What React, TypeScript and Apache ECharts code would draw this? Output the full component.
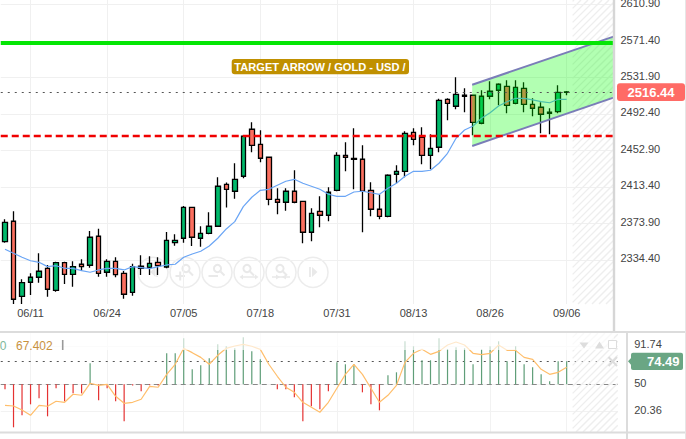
import React, { useEffect, useRef } from "react";
import * as echarts from "echarts";

const FONT = "'Liberation Sans', Arial, sans-serif";

const dateTickIndex = [3, 12, 21, 30, 39, 48, 57, 66];
const dateTickLabels = ["06/11", "06/24", "07/05", "07/18", "07/31", "08/13", "08/26", "09/06"];
const priceTicks = [2610.9, 2571.4, 2531.9, 2492.4, 2452.9, 2413.4, 2373.9, 2334.4];
const oscTicks = [91.74, 50, 20.36];
const lastPrice = 2516.44;
const targetLevel = 2569.6;
const supportLevel = 2468.6;
const lastOsc = 74.49;
const oscAverageLast = "67.402";
const chartTitle = "TARGET ARROW / GOLD - USD /";

// open, close, low, high per session
const opens = [
  2354.2, 2376.3, 2295.1, 2310.3, 2315.7, 2325.4, 2301.6, 2331.5, 2318.9, 2329.8, 2328.7, 2360.1,
  2321.1, 2333, 2320, 2299.4, 2327.6, 2326.5, 2331.9, 2326.8, 2353.1, 2357.9, 2391.4, 2357.9,
  2363.3, 2370.9, 2416.3, 2408.8, 2425, 2475.9, 2459.6, 2445.6, 2400.1, 2396.9, 2408.8, 2397.9,
  2364.4, 2387.1, 2382.8, 2409.8, 2447.7, 2443.2, 2443.4, 2409.8, 2389.3, 2381.7, 2427.2, 2430.4,
  2472.6, 2467.2, 2447.7, 2456.4, 2508.3, 2500.8, 2512.7, 2512.7, 2482.4, 2511.6, 2518.1, 2522.4,
  2504, 2520.2, 2502.9, 2499.7, 2493.2, 2494.9, 2515.9,
];
const closes = [
  2375.2, 2291.9, 2309.8, 2315.7, 2322.2, 2302.7, 2331.5, 2318.9, 2327.2, 2327.2, 2359, 2320,
  2333, 2318.5, 2297.3, 2327.2, 2325.4, 2330.8, 2328.2, 2355.7, 2355.7, 2391.4, 2359, 2363.3,
  2370.9, 2414.2, 2410.9, 2421.7, 2468.3, 2458.5, 2444.5, 2400.1, 2396.9, 2408.8, 2396.9, 2364.4,
  2384.9, 2382.8, 2407.7, 2447.7, 2445.6, 2444.3, 2408.8, 2389.3, 2381.7, 2426.1, 2430.4, 2471.5,
  2465, 2447.7, 2455.3, 2507.2, 2504, 2513.7, 2511.6, 2483.4, 2511.6, 2517, 2524.6, 2501.8,
  2521.3, 2502.9, 2498.6, 2492.1, 2494.3, 2515.9, 2516.44,
];
const lows = [
  2353.1, 2286.8, 2286.8, 2296.5, 2309.8, 2294.7, 2300.1, 2308.4, 2305.5, 2322.5, 2326.1, 2316.3,
  2316.3, 2315.7, 2292.5, 2295.8, 2318.2, 2318.2, 2318.2, 2325.4, 2349.9, 2353.1, 2349.6, 2348.8,
  2362.2, 2370.4, 2391.2, 2400.8, 2422.8, 2451, 2440.1, 2393.6, 2383.9, 2387.8, 2395.8, 2352.5,
  2354.6, 2369.8, 2376.3, 2408.8, 2430.4, 2410.9, 2364.4, 2381.7, 2378.5, 2380.6, 2417.4, 2423.9,
  2458.5, 2438, 2432.6, 2451, 2485.6, 2497.5, 2494.3, 2469.4, 2481.3, 2508.3, 2501.8, 2493.2,
  2502.9, 2494.3, 2489.9, 2471.5, 2470.4, 2493.2, 2512.7,
];
const highs = [
  2378.4, 2387.1, 2313.5, 2320, 2341.7, 2329, 2332.6, 2332.6, 2333, 2335.2, 2365.8, 2368.3,
  2335.2, 2337.3, 2322.5, 2330.4, 2339.5, 2338.4, 2337.3, 2364.7, 2362.2, 2392.8, 2391.4, 2370.9,
  2386, 2423.9, 2418.3, 2439.1, 2469.4, 2483.4, 2474.8, 2445.6, 2412, 2412, 2431.5, 2397.9,
  2390.4, 2403.3, 2413.1, 2451, 2461.8, 2476.9, 2458.5, 2418.5, 2405.5, 2427.2, 2436.9, 2473.7,
  2476.9, 2478, 2470.4, 2509, 2509.4, 2532.1, 2520.2, 2512.7, 2518.1, 2527.8, 2525.6, 2528.9,
  2528.9, 2526.7, 2509.4, 2505.1, 2498.6, 2523.5, 2517.3,
];
const movingAverage = [
  2346, 2341.7, 2337.3, 2333.6, 2331.9, 2327.2, 2328.2, 2325.4, 2325.4, 2322.8, 2321.1, 2323.6,
  2325.4, 2325.4, 2323.6, 2327.2, 2326.1, 2325, 2327.2, 2329, 2329.8, 2337.3, 2340.9, 2343.8,
  2349.6, 2357.9, 2368, 2375.9, 2392.1, 2402.3, 2409.8, 2410.9, 2415.3, 2419.6, 2421.7, 2417.4,
  2414.2, 2410.9, 2405.5, 2403.3, 2403.3, 2408, 2408.8, 2407.2, 2405.5, 2412, 2417.4, 2425,
  2430.4, 2430.4, 2431.5, 2439.1, 2449.9, 2466.1, 2475.1, 2479.4, 2487.8, 2493.8, 2501.1, 2505.7,
  2509.4, 2509.4, 2507.6, 2505.7, 2504.6, 2508.3, 2508.3,
];
const oscBars = [
  44.6, 3.4, 16.4, 28.3, 34.8, 15.3, 45.7, 31.6, 40.2, 40.2, 72.7, 32.7, 45.7, 31.6, 9.9, 48.6,
  42.4, 48.9, 48.6, 83.6, 83.6, 99.8, 66.2, 70.6, 78.2, 93.3, 91.2, 89, 100.9, 85.7, 77.1, 50,
  44.6, 44.6, 35.9, 9.9, 26.2, 22.9, 42.4, 73.8, 71.7, 71.7, 41.3, 28.3, 21.8, 59.8, 63, 96.6,
  91.2, 76, 76, 99.8, 88.3, 90.1, 89, 71.7, 87.9, 91.2, 96.6, 74.9, 91.2, 71.7, 68.4, 60.8,
  53.2, 74.9, 74.9,
];
const oscLine = [
  27.2, 26.5, 22.2, 16.4, 27.2, 26.2, 31.6, 30.5, 39.2, 38.1, 51.1, 48.9, 50, 37, 29.4, 30.5,
  33.8, 47.8, 46.8, 60.8, 71.7, 89, 84.3, 79.2, 71.7, 81.4, 89, 91.5, 93.3, 91.2, 87.9, 71.7,
  58.7, 46.8, 41.3, 30.5, 25.1, 19.7, 30.5, 45.7, 60.8, 71.7, 60.8, 45.7, 30.5, 38.1, 48.9, 73.8,
  83.6, 87.9, 82.5, 85.7, 92.6, 95.9, 92.6, 83.6, 82.1, 83.6, 92.6, 86.8, 86.8, 79.2, 77.1, 66.2,
  60.8, 63, 68.4,
];
const channelStart = [54.9, 2524.1, 2457.8];
const channelEnd = [71.5, 2576.1, 2510.1];
const futureZoneStart = 66.7;
const mainXEnd = 71.5;
const oscXEnd = 72;

const categories = Array.from({ length: 72 }, (_, i) => String(i));

const BAND = 8.51;
const LEFT = 0.75;
const ICON = "#e9e9e9";

function hatchRender(params: any, api: any) {
  const cs = params.coordSys;
  const x0 = api.coord([api.value(0), 0])[0];
  const x1 = api.coord([api.value(1), 0])[0];
  const y0 = cs.y;
  const y1 = cs.y + cs.height;
  const step = 7;
  const children: any[] = [];
  for (let c = x0 + y0 + ((step - ((x0 + y0) % step)) % step); c < x1 + y1; c += step) {
    const ax = Math.max(x0, c - y1);
    const bx = Math.min(x1, c - y0);
    if (bx <= ax) continue;
    children.push({
      type: "line",
      shape: { x1: ax, y1: c - ax, x2: bx, y2: c - bx },
      style: { stroke: "#eeeeee", lineWidth: 1.4 },
      silent: true,
    });
  }
  return { type: "group", children };
}

function magnifier(cx: number, cy: number) {
  return [
    { type: "circle", shape: { cx, cy, r: 3.6 }, style: { fill: "none", stroke: ICON, lineWidth: 2 }, z: -1 },
    { type: "line", shape: { x1: cx + 3, y1: cy + 3, x2: cx + 7, y2: cy + 7 }, style: { stroke: ICON, lineWidth: 2 }, z: -1 },
  ];
}
function bar(x1: number, y1: number, x2: number, y2: number, w = 2) {
  return { type: "line", shape: { x1, y1, x2, y2 }, style: { stroke: ICON, lineWidth: w }, z: -1 };
}
function tri(points: number[][], fill = ICON) {
  return { type: "polygon", shape: { points }, style: { fill }, z: -1 };
}

function buttons() {
  const y = 272.3;
  const rings = [153, 185, 217, 249, 281, 313].map((cx) => ({
    type: "circle",
    shape: { cx, cy: y, r: 15 },
    style: { fill: "none", stroke: "#ececec", lineWidth: 1.5 },
    z: -1,
  }));
  return [
    ...rings,
    tri([[150, 272], [155.5, 267], [155.5, 277]]),
    bar(157, 267, 157, 277, 1.5),
    ...magnifier(186, 268.5),
    bar(175.5, 276, 185, 276),
    bar(180.2, 271.5, 180.2, 280.5),
    ...magnifier(217.5, 268.5),
    bar(208.5, 276, 218, 276),
    ...magnifier(247, 268.5),
    bar(241, 277, 257, 277, 1.5),
    tri([[239.5, 277], [243, 274.5], [243, 279.5]]),
    tri([[258.5, 277], [255, 274.5], [255, 279.5]]),
    ...magnifier(280, 268.5),
    bar(272, 277, 290, 277, 1.5),
    tri([[280, 277], [276, 274.5], [276, 279.5]]),
    tri([[282, 277], [286, 274.5], [286, 279.5]]),
    bar(310, 267, 310, 277, 1.8),
    tri([[312, 267], [317.5, 272], [312, 277]]),
  ];
}

export default function App() {
  const ref = useRef<HTMLDivElement>(null);
  useEffect(() => {
    const chart = echarts.init(ref.current!, undefined, { renderer: "svg" });
    const candleData = opens.map((o, i) => [o, closes[i], lows[i], highs[i]]);
    const mainW = 72 * BAND;
    const oscW = 72.5 * BAND;
    const option: any = {
      animation: false,
      backgroundColor: "#ffffff",
      grid: [
        { left: LEFT, top: 0, width: mainW, height: 304, outerBoundsMode: "none" },
        { left: LEFT, top: 333, width: oscW, height: 99, outerBoundsMode: "none" },
      ],
      xAxis: [
        {
          type: "category",
          gridIndex: 0,
          data: categories,
          axisLine: { show: false },
          axisTick: { show: false },
          axisLabel: { show: false },
          splitLine: { show: false },
        },
        {
          type: "value",
          gridIndex: 0,
          min: -0.5,
          max: mainXEnd,
          position: "bottom",
          axisLine: { show: false },
          axisTick: { show: false, customValues: dateTickIndex },
          axisLabel: {
            customValues: dateTickIndex,
            formatter: (v: number) => dateTickLabels[dateTickIndex.indexOf(v)] ?? "",
            color: "#444444",
            fontSize: 11,
            fontFamily: FONT,
            margin: 3,
          },
          splitLine: { show: true, lineStyle: { color: "#f0f0f0", width: 1 } },
        },
        {
          type: "value",
          gridIndex: 1,
          min: -0.5,
          max: oscXEnd,
          axisLine: { show: false },
          axisTick: { show: false, customValues: dateTickIndex },
          axisLabel: { show: false },
          splitLine: { show: true, lineStyle: { color: "#f2f2f2", width: 1 } },
        },
      ],
      yAxis: [
        {
          type: "value",
          gridIndex: 0,
          position: "right",
          min: 2286.76,
          max: 2615.78,
          axisLine: { show: false },
          axisTick: { show: false, customValues: priceTicks },
          axisLabel: {
            customValues: priceTicks,
            formatter: (v: number) => v.toFixed(2),
            color: "#444444",
            fontSize: 11,
            fontFamily: FONT,
            margin: 7,
            verticalAlign: "bottom",
            lineHeight: 3,
          },
          splitLine: { show: true, lineStyle: { color: "#f0f0f0", width: 1 } },
        },
        {
          type: "value",
          gridIndex: 1,
          position: "right",
          min: -1.7,
          max: 105.6,
          axisLine: { show: false },
          axisTick: { show: false, customValues: oscTicks },
          axisLabel: {
            customValues: oscTicks,
            formatter: (v: number) => (v === 50 ? "50" : v.toFixed(2)),
            color: "#444444",
            fontSize: 11,
            fontFamily: FONT,
            margin: 16.5,
            verticalAlign: "bottom",
            lineHeight: 3,
          },
          splitLine: { show: true, lineStyle: { color: "#f2f2f2", width: 1 } },
        },
      ],
      series: [
        {
          type: "custom",
          xAxisIndex: 1,
          yAxisIndex: 0,
          z: 1,
          silent: true,
          data: [[futureZoneStart, mainXEnd]],
          renderItem: hatchRender,
        },
        {
          type: "custom",
          xAxisIndex: 2,
          yAxisIndex: 1,
          z: 1,
          silent: true,
          data: [[futureZoneStart, oscXEnd]],
          renderItem: hatchRender,
        },
        {
          type: "candlestick",
          xAxisIndex: 0,
          yAxisIndex: 0,
          z: 2,
          barWidth: 5,
          silent: true,
          data: candleData,
          itemStyle: {
            color: "#00b96b",
            color0: "#fb6f5f",
            borderColor: "#000000",
            borderColor0: "#000000",
            borderWidth: 1.3,
          },
          markLine: {
            silent: true,
            symbol: "none",
            label: { show: false },
            z: 6,
            data: [
              { yAxis: targetLevel, lineStyle: { color: "#05e605", width: 4, type: "solid" } },
              { yAxis: supportLevel, lineStyle: { color: "#f00000", width: 2.4, type: [7, 4] } },
              { yAxis: lastPrice, lineStyle: { color: "#555555", width: 1, type: [2, 5] } },
            ],
          },
        },
        {
          type: "line",
          xAxisIndex: 0,
          yAxisIndex: 0,
          z: 3,
          silent: true,
          symbol: "none",
          data: movingAverage,
          lineStyle: { color: "#6aa5f5", width: 1.2 },
        },
        {
          type: "custom",
          xAxisIndex: 1,
          yAxisIndex: 0,
          z: 4,
          silent: true,
          data: [[...channelStart, ...channelEnd]],
          renderItem: (_p: any, api: any) => {
            const a = api.coord([api.value(0), api.value(1)]);
            const b = api.coord([api.value(3), api.value(4)]);
            const c = api.coord([api.value(3), api.value(5)]);
            const d = api.coord([api.value(0), api.value(2)]);
            const edge = { stroke: "#7a7db8", lineWidth: 2 };
            return {
              type: "group",
              children: [
                { type: "polygon", shape: { points: [a, b, c, d] }, style: { fill: "rgba(0,255,0,0.3)" } },
                { type: "line", shape: { x1: a[0], y1: a[1], x2: b[0], y2: b[1] }, style: edge },
                { type: "line", shape: { x1: d[0], y1: d[1], x2: c[0], y2: c[1] }, style: edge },
              ],
            };
          },
        },
        {
          type: "custom",
          xAxisIndex: 2,
          yAxisIndex: 1,
          z: 2,
          silent: true,
          data: oscBars.map((v, i) => [i, v]),
          renderItem: (_p: any, api: any) => {
            const v = api.value(1);
            const base = api.coord([api.value(0), 50]);
            const top = api.coord([api.value(0), v]);
            return {
              type: "line",
              shape: { x1: base[0], y1: base[1], x2: top[0], y2: top[1] },
              style: { stroke: v >= 50 ? "#5f9e78" : "#e53232", lineWidth: 1.2 },
            };
          },
          markLine: {
            silent: true,
            symbol: "none",
            label: { show: false },
            z: 1,
            data: [
              { yAxis: lastOsc, lineStyle: { color: "#555555", width: 1, type: [2, 5] } },
              { yAxis: 50, lineStyle: { color: "#888888", width: 1, type: [5, 4] } },
            ],
          },
        },
        {
          type: "line",
          xAxisIndex: 2,
          yAxisIndex: 1,
          z: 3,
          silent: true,
          symbol: "none",
          data: oscLine.map((v, i) => [i, v]),
          lineStyle: { color: "#ffbe6b", width: 1.2 },
        },
      ],
      graphic: {
        elements: [
          ...buttons(),
          { type: "rect", shape: { x: 0, y: 333, width: 614, height: 17 }, style: { fill: "rgba(255,255,255,0.65)" }, z: 50 },
          { type: "line", shape: { x1: 614, y1: 0, x2: 614, y2: 332 }, style: { stroke: "#d6d6d6", lineWidth: 2.4 }, z: 60 },
          { type: "line", shape: { x1: 0, y1: 332, x2: 686, y2: 332 }, style: { stroke: "#dcdcdc", lineWidth: 2 }, z: 60 },
          { type: "line", shape: { x1: 0, y1: 432.5, x2: 686, y2: 432.5 }, style: { stroke: "#dcdcdc", lineWidth: 2 }, z: 60 },
          { type: "line", shape: { x1: 627, y1: 332, x2: 627, y2: 439 }, style: { stroke: "#dcdcdc", lineWidth: 2 }, z: 60 },
          { type: "line", shape: { x1: 685.5, y1: 0, x2: 685.5, y2: 439 }, style: { stroke: "#e6e6e6", lineWidth: 1 }, z: 60 },
          { type: "rect", shape: { x: 231.7, y: 59, width: 177.3, height: 15.3, r: 3 }, style: { fill: "#c09000" }, z: 70 },
          {
            type: "text", x: 320, y: 66.8, z: 71,
            style: { text: chartTitle, fill: "#ffffff", font: `bold 11.1px ${FONT}`, align: "center", verticalAlign: "middle" },
          },
          { type: "rect", shape: { x: 617, y: 83.3, width: 68, height: 17.7, r: 3 }, style: { fill: "#ff6b66" }, z: 70 },
          {
            type: "text", x: 651, y: 92.3, z: 71,
            style: { text: lastPrice.toFixed(2), fill: "#ffffff", font: `bold 13px ${FONT}`, align: "center", verticalAlign: "middle" },
          },
          { type: "polygon", shape: { points: [[628, 361.3], [632, 357], [632, 366]] }, style: { fill: "#6aa684" }, z: 70 },
          { type: "rect", shape: { x: 631, y: 352.7, width: 52, height: 17.3, r: 2 }, style: { fill: "#6aa684" }, z: 70 },
          {
            type: "text", x: 679.5, y: 361.6, z: 71,
            style: { text: lastOsc.toFixed(2), fill: "#ffffff", font: `bold 13px ${FONT}`, align: "right", verticalAlign: "middle" },
          },
          {
            type: "text", x: 6.5, y: 345.5, z: 71,
            style: { text: "0", fill: "#7fb89a", font: `12px ${FONT}`, align: "right", verticalAlign: "middle" },
          },
          {
            type: "text", x: 16, y: 345.5, z: 71,
            style: { text: oscAverageLast, fill: "#c8923f", font: `12px ${FONT}`, align: "left", verticalAlign: "middle" },
          },
          { type: "line", shape: { x1: 62.7, y1: 340, x2: 62.7, y2: 350 }, style: { stroke: "#999999", lineWidth: 1.6 }, z: 71 },
          { type: "polygon", shape: { points: [[579.5, 342.5], [588.5, 342.5], [584, 348.5]] }, style: { fill: "#dddddd" }, z: 71 },
          { type: "polygon", shape: { points: [[595, 348.5], [604, 348.5], [599.5, 341.5]] }, style: { fill: "#dddddd" }, z: 71 },
          { type: "rect", shape: { x: 608.5, y: 340.5, width: 8, height: 8 }, style: { fill: "#ffffff", stroke: "#dddddd", lineWidth: 1 }, z: 71 },
          { type: "line", shape: { x1: 608.5, y1: 357, x2: 617, y2: 366 }, style: { stroke: "#dddddd", lineWidth: 2 }, z: 71 },
          { type: "line", shape: { x1: 617, y1: 357, x2: 608.5, y2: 366 }, style: { stroke: "#dddddd", lineWidth: 2 }, z: 71 },
        ],
      },
    };
    chart.setOption(option);
    return () => chart.dispose();
  }, []);
  return <div ref={ref} style={{ position: "fixed", left: 0, top: 0, width: 686, height: 439, fontFamily: FONT }} />;
}
